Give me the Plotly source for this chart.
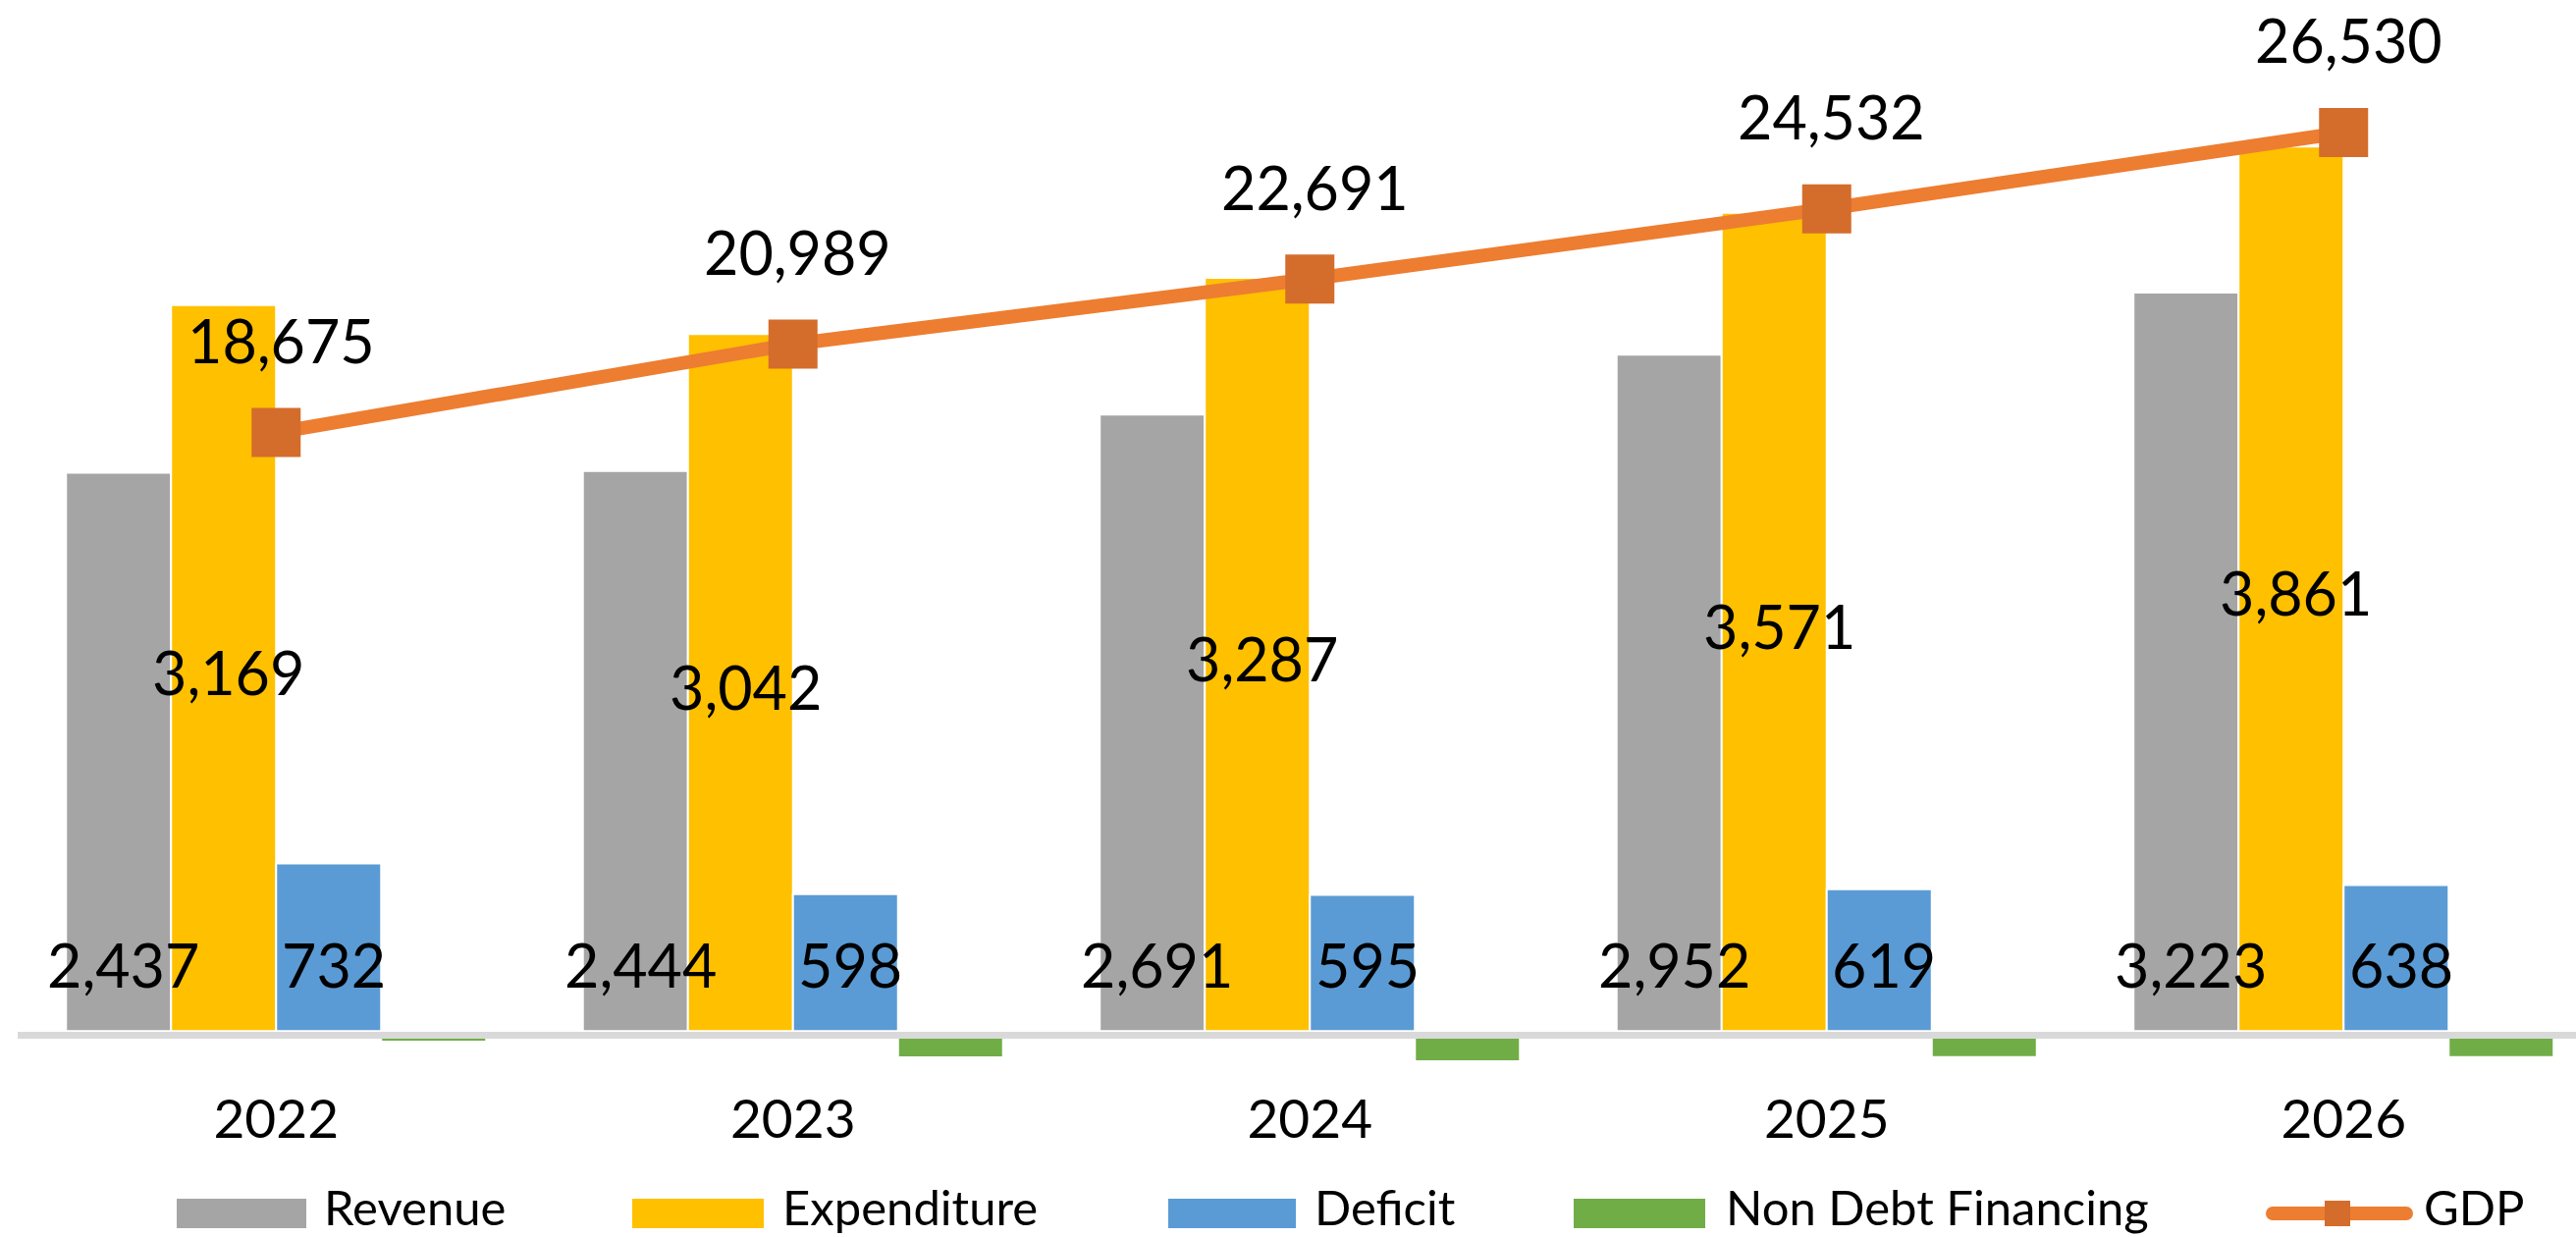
import plotly.graph_objects as go

# ---------------- data ----------------
years = ["2022", "2023", "2024", "2025", "2026"]
revenue = [2437, 2444, 2691, 2952, 3223]
expenditure = [3169, 3042, 3287, 3571, 3861]
deficit = [732, 598, 595, 619, 638]
non_debt_financing = [-46, -114, -132, -113, -113]
gdp = [18675, 20989, 22691, 24532, 26530]

series_names = ["Revenue", "Expenditure", "Deficit", "Non Debt Financing", "GDP"]

# ---------------- styling / layout ----------------
C_REV = "#A5A5A5"
C_EXP = "#FFC000"
C_DEF = "#5B9BD5"
C_NDF = "#70AD47"
C_GDP_LINE = "#ED7D31"
C_GDP_MARK = "#D46C2C"
FONT = "Lato"

FIG_W, FIG_H = 2624, 1260
ML, MR, MT, MB = 18, 0, 0, 93
PLOT_W = FIG_W - ML - MR
PLOT_H = FIG_H - MT - MB
CAT_PX = 526.5                      # pixel width of one category slot
Y1_RANGE = [-500, 4500]
Y2_RANGE = [0, 30000]
BARGAP = 0.187
N_BARS = 4

LABEL_SIZE = 61
TICK_SIZE = 55
LEGEND_SIZE = 49


def bar_offset(i):
    w = (1 - BARGAP) / N_BARS
    return -(1 - BARGAP) / 2 + (i + 0.5) * w


def px_x(px):
    return (px - ML) / PLOT_W


def px_y(py):
    return (MT + PLOT_H - py) / PLOT_H


fig = go.Figure()

bar_series = [
    (series_names[0], revenue, C_REV),
    (series_names[1], expenditure, C_EXP),
    (series_names[2], deficit, C_DEF),
    (series_names[3], non_debt_financing, C_NDF),
]
for name, vals, col in bar_series:
    fig.add_trace(go.Bar(
        x=years, y=vals, name=name,
        marker=dict(color=col, line=dict(color="white", width=2)),
    ))

fig.add_trace(go.Scatter(
    x=years, y=gdp, name=series_names[4], yaxis="y2",
    mode="lines+markers",
    line=dict(color=C_GDP_LINE, width=14),
    marker=dict(symbol="square", size=50, color=C_GDP_MARK, line=dict(width=0)),
))

annotations = []
lab_font = dict(family=FONT, size=LABEL_SIZE, color="black")
XS = 5
for k in range(len(years)):
    # Revenue - inside base
    annotations.append(dict(x=k + bar_offset(0), y=0, xref="x", yref="y",
                            text=f"{revenue[k]:,}", showarrow=False, font=lab_font,
                            xanchor="center", yanchor="middle", yshift=68, xshift=XS))
    # Expenditure - centre
    annotations.append(dict(x=k + bar_offset(1), y=expenditure[k] / 2, xref="x", yref="y",
                            text=f"{expenditure[k]:,}", showarrow=False, font=lab_font,
                            xanchor="center", yanchor="middle", yshift=-4, xshift=XS))
    # Deficit - inside base
    annotations.append(dict(x=k + bar_offset(2), y=0, xref="x", yref="y",
                            text=f"{deficit[k]:,}", showarrow=False, font=lab_font,
                            xanchor="center", yanchor="middle", yshift=68, xshift=XS))
    # GDP - above
    annotations.append(dict(x=k, y=gdp[k], xref="x", yref="y2",
                            text=f"{gdp[k]:,}", showarrow=False, font=lab_font,
                            xanchor="center", yanchor="middle", yshift=94, xshift=XS))

# ---------------- custom legend ----------------
shapes = []
LEG_Y0, LEG_Y1 = 1221, 1251
LEG_YC = (LEG_Y0 + LEG_Y1) / 2
LEG_TXT_Y = 1229
legend_items = [
    (series_names[0], C_REV, 180, 312, 328),
    (series_names[1], C_EXP, 644, 778, 795),
    (series_names[2], C_DEF, 1190, 1320, 1337),
    (series_names[3], C_NDF, 1603, 1737, 1756),
]
leg_font = dict(family=FONT, size=LEGEND_SIZE, color="black")
for name, col, x0, x1, tx in legend_items:
    shapes.append(dict(type="rect", xref="paper", yref="paper",
                       x0=px_x(x0), x1=px_x(x1), y0=px_y(LEG_Y1), y1=px_y(LEG_Y0),
                       fillcolor=col, line=dict(width=0)))
    annotations.append(dict(x=px_x(tx), y=px_y(LEG_TXT_Y), xref="paper", yref="paper",
                            text=name, showarrow=False, xanchor="left", yanchor="middle",
                            font=leg_font))
# GDP legend entry
shapes.append(dict(type="line", xref="paper", yref="paper",
                   x0=px_x(2315), x1=px_x(2451), y0=px_y(LEG_YC), y1=px_y(LEG_YC),
                   line=dict(color=C_GDP_LINE, width=14)))
for cx in (2315, 2451):
    shapes.append(dict(type="circle", xref="paper", yref="paper",
                       x0=px_x(cx - 7), x1=px_x(cx + 7), y0=px_y(LEG_YC + 7), y1=px_y(LEG_YC - 7),
                       fillcolor=C_GDP_LINE, line=dict(width=0)))
shapes.append(dict(type="rect", xref="paper", yref="paper",
                   x0=px_x(2368), x1=px_x(2394), y0=px_y(LEG_YC + 13), y1=px_y(LEG_YC - 13),
                   fillcolor=C_GDP_MARK, line=dict(width=0)))
annotations.append(dict(x=px_x(2467), y=px_y(LEG_TXT_Y), xref="paper", yref="paper",
                        text=series_names[4], showarrow=False, xanchor="left", yanchor="middle",
                        font=leg_font))

zero_frac = (0 - Y1_RANGE[0]) / (Y1_RANGE[1] - Y1_RANGE[0])
axis_pos = zero_frac - 3.2 / PLOT_H

fig.update_layout(
    width=FIG_W, height=FIG_H,
    margin=dict(l=ML, r=MR, t=MT, b=MB, pad=0),
    paper_bgcolor="white", plot_bgcolor="white",
    barmode="group", bargap=BARGAP, bargroupgap=0,
    showlegend=False,
    font=dict(family=FONT, color="black"),
    xaxis=dict(type="category", range=[-0.5, -0.5 + PLOT_W / CAT_PX],
               anchor="free", position=axis_pos,
               showline=True, linecolor="#D9D9D9", linewidth=7,
               showgrid=False, zeroline=False, ticks="",
               tickfont=dict(family=FONT, size=TICK_SIZE, color="black"),
               ticklabelstandoff=35, fixedrange=True),
    yaxis=dict(range=Y1_RANGE, visible=False, showgrid=False, zeroline=False, fixedrange=True),
    yaxis2=dict(range=Y2_RANGE, overlaying="y", side="right", visible=False,
                showgrid=False, zeroline=False, fixedrange=True),
    annotations=annotations,
    shapes=shapes,
)

fig.write_html("out.html", config={"displayModeBar": False},
               post_script="document.body.style.margin='0';document.body.style.overflow='hidden';")
